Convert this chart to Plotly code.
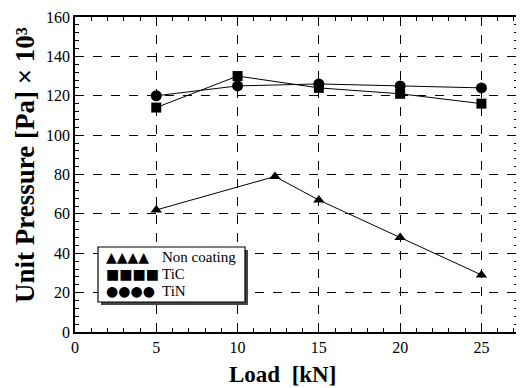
import plotly.graph_objects as go

load_nc = [5, 12.3, 15, 20, 25]
nc_vals = [62, 79, 67, 48, 29]
load_tic = [5, 10, 15, 20, 25]
tic_vals = [114, 130, 124, 121, 116]
load_tin = [5, 10, 15, 20, 25]
tin_vals = [120, 125, 126, 125, 124]

x_ticks = [0, 5, 10, 15, 20, 25]
y_ticks = [0, 20, 40, 60, 80, 100, 120, 140, 160]

x_title = "<b>Load  [kN]</b>"
y_title = "<b>Unit Pressure [Pa] × 10³</b>"
legend_names = ["Non coating", "TiC", "TiN"]
legend_glyphs = ["▲▲▲▲", "■■■■", "●●●●"]

SERIF = "Liberation Serif, Times New Roman, serif"

W, H = 524, 388
OFF = 8  # page body margin offset
# plot area in window pixels
PL, PR, PT, PB = 75, 518, 17, 332
L, T = PL - OFF, PT - OFF
R, B = W - (PR - OFF), H - (PB - OFF)
pw, ph = PR - PL, PB - PT

def px(x):
    return (x - PL) / pw

def py(y):
    return (PB - y) / ph

fig = go.Figure()
common = dict(mode="lines+markers", line=dict(color="black", width=1), showlegend=False)
fig.add_trace(go.Scatter(x=load_nc, y=nc_vals, marker=dict(symbol="triangle-up", size=10, color="black"), **common))
fig.add_trace(go.Scatter(x=load_tic, y=tic_vals, marker=dict(symbol="square", size=10, color="black"), **common))
fig.add_trace(go.Scatter(x=load_tin, y=tin_vals, marker=dict(symbol="circle", size=11, color="black"), **common))

axis_common = dict(
    showline=True, linecolor="black", linewidth=1.5, mirror="ticks",
    ticks="inside", ticklen=7, tickcolor="black",
    showgrid=True, gridcolor="black", griddash="dash", gridwidth=1,
    zeroline=False, automargin=False, ticklabeloverflow="allow",
    tickfont=dict(family=SERIF, size=16, color="black"),
)

fig.update_xaxes(range=[0, 27.25], tickvals=x_ticks,
                 minor=dict(dtick=1, ticks="inside", ticklen=4, tickcolor="black", showgrid=False),
                 **axis_common)
fig.update_yaxes(range=[0, 160], tickvals=y_ticks,
                 minor=dict(dtick=4, ticks="inside", ticklen=4, tickcolor="black", showgrid=False),
                 **axis_common)

# Axis titles
fig.add_annotation(xref="paper", yref="paper", x=px(282), y=py(374), xanchor="center", yanchor="middle",
                   text=x_title, showarrow=False, font=dict(family=SERIF, size=23, color="black"))
fig.add_annotation(xref="paper", yref="paper", x=px(25), y=py(165), xanchor="center", yanchor="middle",
                   text=y_title, textangle=-90, showarrow=False, font=dict(family=SERIF, size=27, color="black"))

# Legend box with shadow
bx0, bx1, by0, by1 = 98, 245, 247, 302
fig.add_shape(type="rect", xref="paper", yref="paper",
              x0=px(bx0 + 3), x1=px(bx1 + 3), y0=py(by1 + 3), y1=py(by0 + 3),
              fillcolor="#444", line=dict(width=0), layer="above")
fig.add_shape(type="rect", xref="paper", yref="paper",
              x0=px(bx0), x1=px(bx1), y0=py(by1), y1=py(by0),
              fillcolor="white", line=dict(color="black", width=1.2), layer="above")

rows = [257, 274, 291]
for name, glyph, ry in zip(legend_names, legend_glyphs, rows):
    fig.add_annotation(xref="paper", yref="paper", x=px(104), y=py(ry), xanchor="left", yanchor="middle",
                       text=glyph, showarrow=False, font=dict(family="DejaVu Sans", size=14, color="black"))
    fig.add_annotation(xref="paper", yref="paper", x=px(160), y=py(ry), xanchor="left", yanchor="middle",
                       text=name, showarrow=False, font=dict(family=SERIF, size=15, color="black"))

fig.update_layout(width=W, height=H, margin=dict(l=L, r=R, t=T, b=B),
                  paper_bgcolor="white", plot_bgcolor="white")
fig.write_html("out.html")
